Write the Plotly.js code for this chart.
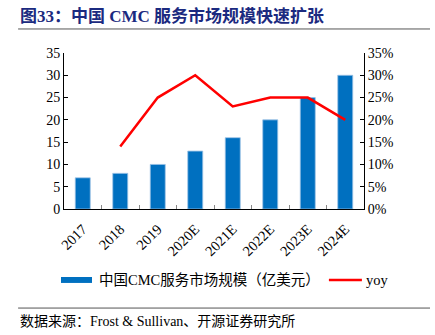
<!DOCTYPE html>
<html>
<head>
<meta charset="utf-8">
<script src="https://cdn.plot.ly/plotly-3.0.1.min.js"></script>
<style>html,body{margin:0;padding:0;background:#fff;}#chart{width:435px;height:335px;}</style>
</head>
<body>
<div id="chart"></div>
<script>
const categories = ['2017','2018','2019','2020E','2021E','2022E','2023E','2024E'];
const marketSize = [7, 8, 10, 13, 16, 20, 25, 30];
const yoy = [null, 14, 25, 30, 23, 25, 25, 20];
const barName = '中国CMC服务市场规模（亿美元）';
const lineName = 'yoy';
const titleText = '<b>图33：中国 CMC 服务市场规模快速扩张</b>';
const sourceText = '数据来源：Frost & Sullivan、开源证券研究所';

const serif = 'Liberation Serif, Times New Roman, Noto Sans CJK SC, serif';

const traces = [
  {
    type: 'bar', x: categories, y: marketSize, name: barName, showlegend: false,
    marker: {color: '#0070C0', line: {color: '#9DC3E6', width: 0.8}},
    width: 0.4
  },
  {
    type: 'scatter', mode: 'lines', x: categories, y: yoy, name: lineName, showlegend: false,
    yaxis: 'y2', line: {color: '#FF0000', width: 2.5}, connectgaps: false
  }
];

const layout = {
  width: 435, height: 335,
  margin: {l: 64, r: 71, t: 53, b: 126},
  paper_bgcolor: '#fff', plot_bgcolor: '#fff',
  font: {family: serif, size: 14, color: '#000'},
  title: {
    text: titleText, xref: 'container', yref: 'container',
    x: 0.046, xanchor: 'left', y: 0.952, yanchor: 'middle',
    font: {family: 'Liberation Serif, Noto Sans CJK SC, serif', size: 17, color: '#1B2A80'}
  },
  xaxis: {
    type: 'category',
    showline: true, linecolor: '#000', linewidth: 1,
    ticks: 'inside', tickson: 'boundaries', ticklen: 4, tickcolor: '#888',
    tickangle: -45, showgrid: false, zeroline: false, ticklabelstandoff: 5,
    tickfont: {family: serif, size: 14.5}
  },
  yaxis: {
    range: [0, 35], dtick: 5, showline: true, linecolor: '#000', linewidth: 1,
    ticks: 'inside', ticklen: 4, tickcolor: '#000', showgrid: false, zeroline: false,
    tickfont: {family: serif, size: 14}
  },
  yaxis2: {
    range: [0, 35], dtick: 5, overlaying: 'y', side: 'right', ticksuffix: '%',
    showline: true, linecolor: '#000', linewidth: 1,
    ticks: 'inside', ticklen: 4, tickcolor: '#000', showgrid: false, zeroline: false,
    tickfont: {family: serif, size: 14}
  },
  showlegend: false,
  shapes: [
    {type: 'line', xref: 'paper', yref: 'paper', x0: -0.153, x1: 1.22, y0: 1.154, y1: 1.154,
     line: {color: '#555', width: 1}},
    {type: 'line', xref: 'paper', yref: 'paper', x0: -0.153, x1: 1.22, y0: -0.635, y1: -0.635,
     line: {color: '#555', width: 1}},
    {type: 'rect', xref: 'paper', yref: 'paper', x0: -0.01, x1: 0.0933, y0: -0.474, y1: -0.436,
     fillcolor: '#0070C0', line: {width: 0}},
    {type: 'line', xref: 'paper', yref: 'paper', x0: 0.883, x1: 0.993, y0: -0.455, y1: -0.455,
     line: {color: '#FF0000', width: 2.5}}
  ],
  annotations: [
    {text: barName, xref: 'paper', yref: 'paper', x: 0.11, y: -0.455,
     xanchor: 'left', yanchor: 'middle', showarrow: false,
     font: {family: serif, size: 14.5, color: '#000'}},
    {text: lineName, xref: 'paper', yref: 'paper', x: 1.0, y: -0.455,
     xanchor: 'left', yanchor: 'middle', showarrow: false,
     font: {family: serif, size: 14.5, color: '#000'}},
    {text: sourceText, xref: 'paper', yref: 'paper', x: -0.153, y: -0.718,
     xanchor: 'left', yanchor: 'middle', showarrow: false,
     font: {family: serif, size: 14, color: '#000'}}
  ]
};

Plotly.newPlot('chart', traces, layout, {displayModeBar: false, staticPlot: true});
</script>
</body>
</html>
